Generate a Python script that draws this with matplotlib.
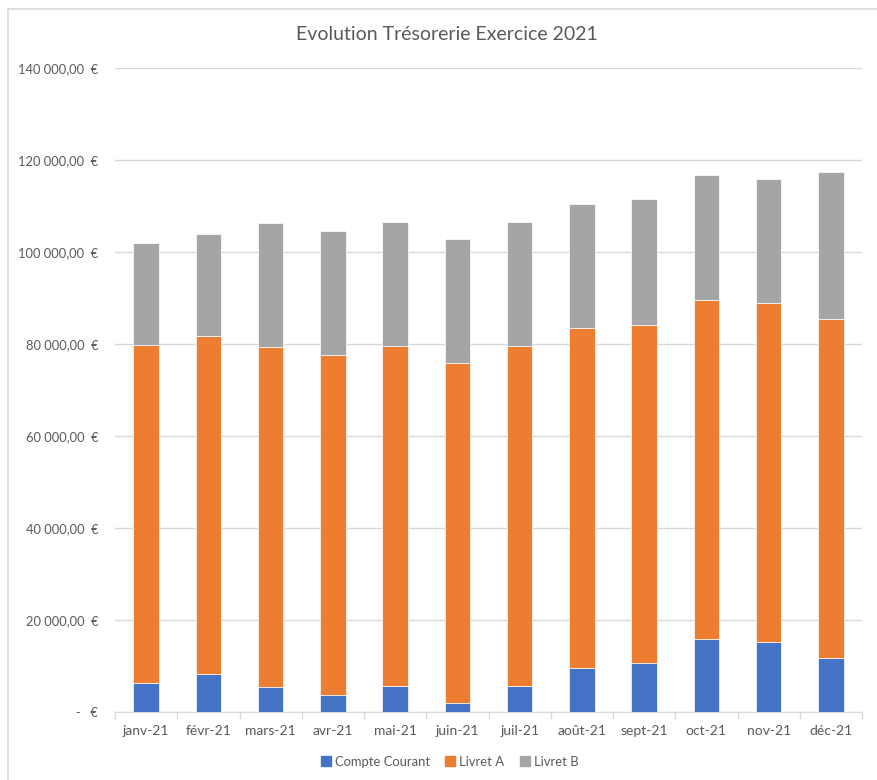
import matplotlib
matplotlib.use("Agg")
import matplotlib.pyplot as plt
from matplotlib.ticker import FuncFormatter, FixedLocator
from matplotlib.lines import Line2D
import numpy as np

# Data
months = ["janv-21", "févr-21", "mars-21", "avr-21", "mai-21", "juin-21",
          "juil-21", "août-21", "sept-21", "oct-21", "nov-21", "déc-21"]
compte_courant = [6300, 8350, 5500, 3800, 5800, 2050, 5800, 9750, 10750, 15900, 15200, 11800]
livret_a = [73600, 73400, 73800, 73800, 73850, 73800, 73850, 73700, 73350, 73750, 73750, 73750]
livret_b = [22150, 22150, 26950, 26950, 26900, 26950, 26950, 27000, 27400, 27050, 27000, 31800]

text_color = "#595959"
grid_color = "#D9D9D9"
colors = ["#4472C4", "#ED7D31", "#A5A5A5"]

plt.rcParams['font.family'] = ['Lato', 'DejaVu Sans']

fig = plt.figure(figsize=(8.77, 7.80), dpi=100)
ax = fig.add_axes([115 / 877, 1 - 712.4 / 780, (862 - 115) / 877, (712.4 - 68) / 780])

x = np.arange(len(months))
width = 0.41
ax.bar(x, compte_courant, width, color=colors[0], edgecolor="white", linewidth=0.5,
       label="Compte Courant", zorder=3)
bottom_b = np.array(compte_courant)
ax.bar(x, livret_a, width, bottom=bottom_b, color=colors[1], edgecolor="white",
       linewidth=0.5, label="Livret A", zorder=3)
bottom_c = bottom_b + np.array(livret_a)
ax.bar(x, livret_b, width, bottom=bottom_c, color=colors[2], edgecolor="white",
       linewidth=0.5, label="Livret B", zorder=3)

ax.set_xlim(-0.5, len(months) - 0.5)
ax.set_ylim(0, 140000)


def euro(v, pos):
    if v == 0:
        return "-   €"
    return "{:,.2f}".format(v).replace(",", " ").replace(".", ",") + "  €"


ax.yaxis.set_major_locator(FixedLocator(np.arange(0, 140001, 20000)))
ax.yaxis.set_major_formatter(FuncFormatter(euro))
ax.tick_params(axis="y", length=0, pad=12, labelsize=9.3, labelcolor=text_color)
ax.grid(axis="y", color=grid_color, linewidth=1, zorder=0)

ax.set_xticks(x)
ax.set_xticklabels(months)
ax.tick_params(axis="x", which="major", length=0, pad=9, labelsize=10, labelcolor=text_color)
ax.set_xticks(np.arange(-0.5, len(months) + 0.5, 1), minor=True)
ax.tick_params(axis="x", which="minor", length=5, color=grid_color, width=1)

for side in ["top", "right", "left"]:
    ax.spines[side].set_visible(False)
ax.spines["bottom"].set_color(grid_color)

fig.text(0.51, 1 - 35 / 780, "Evolution Trésorerie Exercice 2021", ha="center",
         va="center", fontsize=14, color=text_color)

handles = [Line2D([], [], marker="s", linestyle="", markersize=6.5, color=c) for c in colors]
fig.legend(handles, ["Compte Courant", "Livret A", "Livret B"], loc="center",
           bbox_to_anchor=(0.513, 1 - 762 / 780), ncol=3, frameon=False, fontsize=9.4,
           labelcolor=text_color, handlelength=0.7, handletextpad=0.35, columnspacing=1.2)

# chart frame edges (left and top)
fig.add_artist(Line2D([8 / 877, 8 / 877], [0, 1 - 9 / 780], color=grid_color, linewidth=1.2))
fig.add_artist(Line2D([8 / 877, 1], [1 - 9 / 780, 1 - 9 / 780], color=grid_color, linewidth=1.2))

fig.savefig("out.png", dpi=100)
